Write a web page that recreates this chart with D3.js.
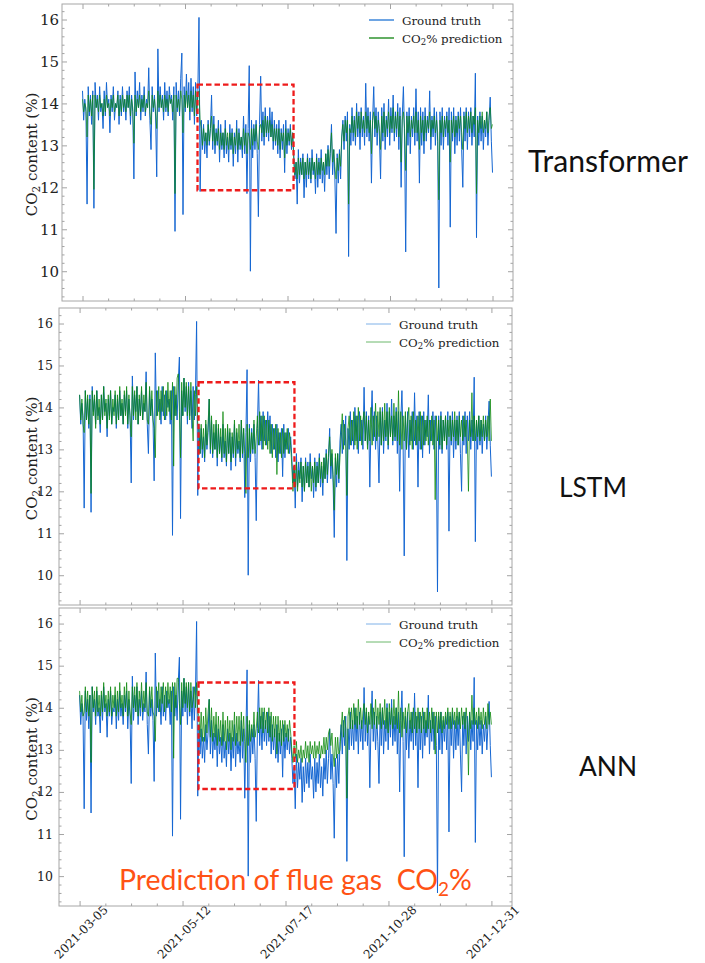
<!DOCTYPE html>
<html>
<head>
<meta charset="utf-8">
<script src="https://cdn.jsdelivr.net/npm/d3@7"></script>
<style>
  html, body { margin: 0; padding: 0; background: #fff; }
  svg { display: block; }
</style>
</head>
<body>
<svg id="chart" width="705" height="963"></svg>
<script>
// ---- data ---------------------------------------------------------------
const xTickLabels = ["2021-03-05", "2021-05-12", "2021-07-17", "2021-10-28", "2021-12-31"];
const yTickValues = [10, 11, 12, 13, 14, 15, 16];
const modelNames = ["Transformer", "LSTM", "ANN"];

// measured flue gas CO2 (%), one sample per step
const groundTruth = [
  14.3, 13.6, 14.1, 13.8, 11.6, 14.4, 13.7, 14.2, 13.5, 14.3, 11.5, 14.5, 13.9, 14.2, 13.6, 14.4, 13.8, 14.0, 13.4, 14.3,
  13.7, 14.5, 13.9, 14.1, 13.3, 14.2, 13.8, 14.4, 13.6, 14.0, 13.9, 14.3, 13.5, 14.2, 13.7, 14.4, 13.8, 14.1, 13.6, 14.3,
  13.9, 14.4, 13.5, 14.2, 13.8, 12.2, 14.75, 13.7, 14.3, 13.9, 14.5, 13.6, 14.2, 13.8, 14.4, 13.7, 14.1, 13.9, 14.85, 13.6,
  12.9, 14.4, 13.8, 14.2, 13.7, 12.25, 15.3, 13.8, 14.4, 13.9, 14.2, 13.6, 14.5, 13.8, 14.3, 13.7, 14.4, 14.0, 14.2, 13.6,
  14.4, 10.95, 14.5, 13.8, 14.3, 13.7, 14.6, 15.2, 11.35, 14.4, 13.8, 14.7, 13.9, 14.5, 13.6, 14.6, 13.8, 14.4, 13.5, 14.5,
  13.7, 14.3, 16.05, 11.9,
  13.6, 12.9, 13.5, 12.8, 13.3, 12.7, 13.6, 13.0, 13.4, 14.2, 12.9, 13.7, 12.8, 13.4, 13.0, 13.6, 12.6, 13.5, 12.9, 13.3,
  12.7, 13.6, 12.8, 13.2, 12.6, 13.5, 12.9, 13.4, 12.5, 13.3, 12.8, 13.6, 12.6, 13.4, 12.9, 13.2, 12.7, 13.7, 12.8, 13.5,
  11.85, 13.4, 14.9, 10.0, 13.6, 12.7, 13.5, 12.9, 13.6, 12.8, 11.3, 13.5, 14.65, 13.1, 13.8, 13.0, 13.9, 13.2, 13.7, 13.1,
  13.9, 13.2, 13.8, 12.9, 13.6, 13.0, 13.5, 12.8, 13.6, 12.7, 13.4, 12.9, 13.5, 12.35, 13.6, 12.8, 13.4, 13.0, 13.5, 12.9,
  13.3,
  12.8, 12.2, 12.6, 11.6, 12.9, 12.1, 12.7, 12.3, 12.8, 11.75, 12.6, 12.0, 12.8, 12.2, 12.7, 12.1, 12.9, 12.3, 12.6, 11.85,
  12.8, 12.0, 12.7, 12.2, 12.9, 12.1, 12.6, 11.9, 12.8, 12.3, 13.0, 12.2, 12.8, 13.5, 12.3, 12.9, 12.2, 10.9, 12.8, 12.1,
  12.9, 12.2,
  13.2, 13.6, 12.9, 13.7, 13.1, 13.8, 10.35, 13.5, 13.0, 13.9, 13.1, 13.7, 13.0, 14.0, 13.2, 13.8, 12.9, 13.9, 13.2, 13.7,
  13.0, 14.48, 13.2, 13.9, 13.1, 13.8, 12.1, 13.6, 14.4, 13.2, 13.9, 13.0, 13.8, 13.2, 12.2, 13.9, 13.1, 14.0, 12.9, 13.7,
  13.2, 14.1, 13.0, 13.9, 13.3, 14.2, 13.1, 13.8, 13.2, 14.0, 12.9, 13.9, 12.0, 13.7, 14.4, 13.2, 10.46, 13.8, 13.0, 13.9,
  12.8, 13.7, 13.2, 13.9, 13.0, 14.35, 13.1, 13.8, 12.1, 13.9, 13.0, 13.8, 12.8, 13.9, 13.1, 13.7, 13.3, 14.3, 12.9, 13.7,
  13.2, 13.9, 13.0, 13.8, 13.1, 9.6, 13.8, 13.0, 13.9, 12.9, 13.7, 13.2, 13.8, 13.0, 13.9, 11.05, 13.8, 13.1, 13.9, 12.8,
  13.7, 13.0, 13.8, 13.1, 13.9, 12.9, 12.0, 13.8, 13.1, 13.9, 12.9, 13.8, 13.2, 13.9, 13.0, 13.7, 13.2, 14.72, 10.8, 13.7,
  13.0, 13.8, 13.1, 13.7, 12.9, 13.6, 13.2, 13.8, 13.0, 13.6, 14.15, 13.1, 12.35
];

// model predictions of the same samples
const transformerPrediction = [
  14.1, 13.8, 14.0, 13.9, 13.2, 14.2, 13.8, 14.1, 13.7, 14.2, 11.95, 14.2, 13.9, 14.1, 13.8, 14.2, 13.9, 14.0, 13.7, 14.1,
  13.8, 14.2, 13.9, 14.0, 13.7, 14.1, 13.9, 14.2, 13.8, 14.0, 13.9, 14.2, 13.7, 14.1, 13.8, 14.2, 13.9, 14.1, 13.8, 14.2,
  13.9, 14.2, 13.7, 14.1, 13.9, 13.05, 14.2, 13.8, 14.1, 13.9, 14.2, 13.8, 14.1, 13.9, 14.2, 13.8, 14.0, 13.9, 14.3, 13.8,
  13.5, 14.2, 13.9, 14.1, 13.8, 13.4, 14.3, 13.9, 14.2, 13.9, 14.1, 13.8, 14.2, 13.9, 14.1, 13.8, 14.2, 14.0, 14.1, 13.8,
  14.2, 11.85, 14.2, 13.9, 14.1, 13.8, 14.3, 14.1, 13.3, 14.2, 13.9, 14.3, 13.9, 14.2, 13.8, 14.3, 13.9, 14.2, 13.7, 14.3,
  13.8, 14.2, 14.3, 13.6,
  13.4, 13.0, 13.4, 13.1, 13.3, 13.0, 13.5, 13.1, 13.4, 13.7, 13.1, 13.5, 13.0, 13.3, 13.1, 13.4, 12.9, 13.3, 13.0, 13.3,
  12.9, 13.4, 13.0, 13.3, 12.9, 13.3, 13.0, 13.3, 12.8, 13.2, 13.0, 13.4, 12.9, 13.3, 13.0, 13.2, 12.9, 13.4, 13.0, 13.3,
  12.8, 13.3, 13.2, 12.9, 13.4, 13.0, 13.4, 13.1, 13.5, 13.1, 12.9, 13.4, 13.5, 13.3, 13.6, 13.2, 13.7, 13.3, 13.6, 13.3,
  13.6, 13.2, 13.5, 13.1, 13.4, 13.1, 13.4, 13.0, 13.4, 12.9, 13.3, 13.1, 13.3, 12.7, 13.4, 13.0, 13.3, 13.1, 13.4, 13.0,
  13.3,
  12.6, 12.3, 12.6, 12.2, 12.7, 12.3, 12.6, 12.3, 12.7, 12.2, 12.6, 12.3, 12.7, 12.3, 12.6, 12.2, 12.7, 12.4, 12.6, 12.2,
  12.7, 12.3, 12.6, 12.3, 12.7, 12.4, 12.6, 12.3, 12.8, 12.5, 12.9, 12.5, 12.9, 13.3, 12.6, 12.9, 12.5, 12.2, 12.7, 12.4,
  12.8, 12.5,
  13.2, 13.5, 13.1, 13.6, 13.3, 13.6, 11.6, 13.4, 13.3, 13.7, 13.3, 13.6, 13.2, 13.8, 13.4, 13.7, 13.3, 13.8, 13.4, 13.6,
  13.3, 13.8, 13.4, 13.7, 13.3, 13.6, 12.8, 13.6, 13.8, 13.4, 13.7, 13.3, 13.6, 13.4, 12.9, 13.7, 13.3, 13.8, 13.2, 13.6,
  13.4, 13.8, 13.3, 13.7, 13.4, 13.9, 13.3, 13.7, 13.4, 13.8, 13.2, 13.7, 12.6, 13.6, 13.8, 13.4, 12.4, 13.7, 13.3, 13.7,
  13.2, 13.6, 13.4, 13.7, 13.3, 13.8, 13.3, 13.6, 12.9, 13.7, 13.3, 13.6, 13.1, 13.7, 13.3, 13.6, 13.4, 13.8, 13.2, 13.6,
  13.4, 13.7, 13.3, 13.6, 13.3, 11.7, 13.6, 13.3, 13.7, 13.2, 13.6, 13.4, 13.7, 13.3, 13.6, 12.6, 13.6, 13.3, 13.7, 13.2,
  13.6, 13.3, 13.7, 13.4, 13.7, 13.3, 12.9, 13.7, 13.4, 13.8, 13.3, 13.7, 13.4, 13.8, 13.3, 13.7, 13.5, 13.9, 11.85, 13.6,
  13.3, 13.7, 13.4, 13.8, 13.3, 13.6, 13.4, 13.8, 13.3, 13.7, 13.9, 13.4, 13.5
];

const lstmPrediction = [
  14.3, 13.7, 14.2, 13.6, 13.4, 14.4, 13.7, 14.3, 13.6, 14.2, 11.95, 14.4, 13.8, 14.3, 13.5, 14.4, 13.7, 14.2, 13.6, 14.3,
  13.7, 14.5, 13.8, 14.2, 13.5, 14.3, 13.7, 14.4, 13.6, 14.2, 13.8, 14.4, 13.6, 14.3, 13.7, 14.5, 13.8, 14.2, 13.6, 14.4,
  13.8, 14.5, 13.6, 14.3, 13.7, 13.3, 14.5, 13.8, 14.4, 13.7, 14.5, 13.6, 14.3, 13.8, 14.5, 13.7, 14.3, 13.9, 14.6, 13.7,
  13.6, 14.5, 13.8, 14.4, 13.7, 13.5, 12.8, 14.4, 13.8, 14.5, 13.7, 14.4, 13.9, 14.5, 13.7, 14.4, 13.8, 14.6, 13.9, 14.4,
  13.7, 14.6, 12.6, 14.5, 13.8, 14.7, 14.8, 13.9, 12.8, 14.6, 13.8, 14.7, 14.0, 14.6, 13.8, 14.5, 13.7, 14.6, 13.8, 13.2,
  14.4, 13.8, 14.5, 13.6,
  13.5, 12.9, 13.6, 13.0, 13.5, 12.8, 13.7, 13.1, 13.6, 14.2, 13.0, 13.8, 12.9, 13.6, 13.0, 13.7, 12.8, 13.6, 12.9, 13.5,
  12.8, 13.9, 12.9, 13.5, 12.7, 13.6, 12.9, 13.5, 12.7, 13.4, 12.9, 13.7, 12.8, 13.5, 13.0, 13.6, 12.8, 13.7, 12.9, 13.5,
  12.9, 11.95, 13.6, 12.8, 13.5, 12.9, 13.4, 13.0, 13.7, 12.9, 13.3, 13.8, 13.1, 13.9, 13.2, 13.8, 13.0, 13.8, 13.1, 13.7,
  13.0, 13.7, 12.9, 13.6, 12.8, 13.5, 13.0, 13.6, 12.4, 13.5, 12.9, 13.4, 12.8, 13.5, 12.9, 13.4, 13.0, 13.5, 12.9, 13.4,
  13.1,
  12.6, 12.0, 12.6, 12.1, 12.7, 12.0, 12.5, 12.2, 12.7, 12.1, 12.6, 12.0, 12.7, 12.2, 12.6, 12.1, 12.7, 12.0, 12.6, 12.2,
  12.7, 12.1, 12.6, 12.2, 12.8, 12.3, 12.7, 12.2, 12.8, 12.3, 12.9, 12.4, 12.9, 13.3, 12.6, 13.0, 12.4, 11.55, 12.9, 12.4,
  12.9, 12.3,
  12.8, 13.4, 13.85, 13.0, 13.6, 13.2, 11.9, 13.5, 13.8, 13.1, 13.7, 13.2, 13.9, 13.1, 13.8, 13.0, 14.0, 13.2, 13.8, 13.1,
  13.7, 13.9, 13.2, 13.8, 13.0, 13.7, 13.2, 14.0, 13.1, 13.8, 13.3, 14.1, 13.2, 13.9, 13.3, 14.0, 13.1, 13.9, 13.2, 14.1,
  13.3, 13.9, 13.1, 14.0, 13.3, 13.8, 13.2, 14.1, 13.3, 13.9, 13.2, 14.4, 13.1, 13.9, 13.0, 13.8, 13.2, 13.9, 13.0, 13.7,
  14.0, 13.1, 13.8, 13.0, 13.9, 13.2, 13.7, 13.1, 13.8, 13.2, 13.9, 13.0, 13.8, 13.1, 13.7, 13.2, 13.8, 13.1, 13.7, 13.2,
  13.8, 13.1, 13.7, 11.8, 13.8, 13.2, 13.7, 13.1, 13.8, 13.0, 13.7, 13.2, 13.8, 13.1, 13.7, 13.3, 13.8, 13.2, 13.7, 13.3,
  13.9, 13.2, 13.7, 13.1, 13.8, 13.3, 13.7, 13.2, 13.8, 13.3, 13.7, 13.2, 12.0, 13.7, 13.3, 14.35, 13.2, 13.8, 13.2, 13.7,
  13.3, 13.8, 13.2, 13.7, 13.3, 13.8, 13.2, 13.7, 13.3, 13.8, 13.2, 14.2, 13.2
];

const annPrediction = [
  14.4, 13.9, 14.3, 13.8, 13.9, 14.5, 13.9, 14.4, 13.8, 14.3, 12.7, 14.5, 14.0, 14.4, 13.8, 14.5, 13.9, 14.3, 13.8, 14.4,
  13.9, 14.6, 14.0, 14.3, 13.8, 14.4, 13.9, 14.5, 13.8, 14.3, 14.0, 14.5, 13.8, 14.4, 13.9, 14.6, 14.0, 14.3, 13.8, 14.5,
  14.0, 14.6, 13.8, 14.4, 13.9, 13.6, 14.5, 14.0, 14.5, 13.9, 14.6, 13.8, 14.4, 14.0, 14.6, 13.9, 14.4, 14.0, 14.6, 13.9,
  13.8, 14.5, 14.0, 14.5, 13.9, 13.8, 13.2, 14.5, 14.0, 14.6, 13.9, 14.5, 14.1, 14.6, 13.9, 14.5, 14.0, 14.6, 14.1, 14.5,
  13.9, 14.6, 12.8, 14.6, 14.0, 14.7, 14.7, 14.1, 13.6, 14.6, 14.0, 14.7, 14.1, 14.6, 14.0, 14.6, 13.9, 14.6, 14.0, 14.2,
  14.5, 14.0, 14.6, 13.9,
  13.8, 13.3, 13.9, 13.2, 13.8, 13.2, 14.0, 13.4, 13.9, 14.2, 13.3, 14.0, 13.2, 13.8, 13.3, 13.9, 13.1, 13.8, 13.2, 13.7,
  13.1, 13.9, 13.2, 13.7, 13.0, 13.8, 13.2, 13.7, 13.0, 13.7, 13.2, 13.9, 13.1, 13.8, 13.2, 13.8, 13.1, 13.9, 13.2, 13.8,
  13.2, 12.7, 13.8, 13.1, 13.7, 13.2, 13.6, 13.3, 13.9, 13.3, 13.5, 13.9, 13.4, 14.0, 13.5, 14.0, 13.4, 14.0, 13.5, 13.9,
  13.4, 14.0, 13.3, 13.9, 13.2, 13.8, 13.3, 13.8, 12.9, 13.8, 13.2, 13.7, 13.1, 13.7, 13.2, 13.7, 13.3, 13.6, 13.2, 13.7,
  13.4,
  13.0, 12.7, 13.1, 12.8, 13.2, 12.7, 13.0, 12.8, 13.1, 12.7, 13.0, 12.8, 13.2, 12.8, 13.1, 12.7, 13.2, 12.9, 13.1, 12.8,
  13.2, 12.8, 13.1, 12.9, 13.2, 12.8, 13.1, 12.9, 13.3, 12.9, 13.3, 13.0, 13.4, 13.5, 13.1, 13.4, 12.9, 12.6, 13.3, 12.8,
  13.3, 12.9,
  13.0, 13.5, 13.9, 13.3, 13.8, 13.5, 11.85, 13.8, 14.0, 13.5, 14.0, 13.5, 14.1, 13.6, 14.0, 13.5, 14.2, 13.6, 14.0, 13.5,
  13.9, 14.1, 13.6, 14.0, 13.4, 13.9, 13.6, 14.1, 13.5, 14.0, 13.6, 14.2, 13.5, 14.0, 13.6, 14.1, 13.5, 14.0, 13.6, 14.2,
  13.5, 14.0, 13.4, 14.1, 13.6, 14.0, 13.5, 14.2, 13.6, 14.0, 13.5, 14.4, 13.4, 14.0, 13.3, 13.9, 13.5, 14.0, 13.4, 13.9,
  14.1, 13.5, 13.9, 13.4, 14.0, 13.5, 13.9, 13.4, 14.0, 13.5, 13.9, 13.4, 14.0, 13.5, 13.9, 13.4, 14.0, 13.5, 13.9, 13.4,
  14.0, 13.5, 13.9, 12.9, 13.9, 13.4, 13.9, 13.5, 13.9, 13.4, 13.8, 13.5, 13.9, 13.6, 14.0, 13.5, 13.9, 13.5, 14.0, 13.6,
  13.9, 13.5, 14.0, 13.6, 13.9, 13.5, 14.0, 13.6, 13.9, 13.5, 14.0, 13.6, 12.4, 13.9, 13.5, 14.3, 13.6, 14.0, 13.6, 13.9,
  13.5, 14.0, 13.6, 13.9, 13.5, 14.0, 13.6, 13.9, 13.5, 14.1, 13.6, 13.9, 13.6
];

// highlighted window (sample index range, CO2 range) for each model
const highlightStart = [100.7, 103.7, 103.7];
const highlightEnd = [184.8, 187.3, 187.3];
const highlightLow = [11.93, 12.07, 12.07];
const highlightHigh = [14.45, 14.6, 14.6];

// ---- layout -------------------------------------------------------------
const predictions = [transformerPrediction, lstmPrediction, annPrediction];
const panels = [
  { left: 62, right: 513, top: 4,   bottom: 301, tickFont: 15,   legendX: 369, legendY: 20,  legendW: 1.6,
    gtLegend: "#4a8fdc", predLegend: "#3c9a3c", nameX: 528, nameBase: 172, nameW: 160, predW: 0.7 },
  { left: 59, right: 512, top: 308, bottom: 605, tickFont: 12.5, legendX: 366, legendY: 324, legendW: 1,
    gtLegend: "#7fb1e8", predLegend: "#6cb86c", nameX: 559, nameBase: 497, nameW: 68, predW: 0.8 },
  { left: 59, right: 512, top: 608, bottom: 906, tickFont: 12.5, legendX: 366, legendY: 624, legendW: 1,
    gtLegend: "#7fb1e8", predLegend: "#6cb86c", nameX: 579, nameBase: 776, nameW: 58, predW: 0.8 }
];

const svg = d3.select("#chart");
const serif = "'DejaVu Serif', serif";
const sans = "Lato, 'Open Sans', sans-serif";
const frameColor = "#a6a6a6";
const tickColor = "#8c8c8c";
const n = groundTruth.length;
const yDomain = [9.29, 16.37];
const xDomain = [-(n - 1) * 0.05, (n - 1) * 1.05];
const xMajor = d3.range(5).map(k => k * (n - 1) / 4);
const xMinor = d3.range(17).map(k => k * (n - 1) / 16).filter((v, k) => k % 4 !== 0);
const yMinor = d3.ticks(yDomain[0], yDomain[1], 35).filter(v => Math.abs(v - Math.round(v)) > 1e-6);

function fitText(sel, targetWidth, baseSize) {
  const w = sel.node().getComputedTextLength();
  if (w > 0) sel.attr("font-size", baseSize * targetWidth / w);
}

panels.forEach((p, idx) => {
  const x = d3.scaleLinear().domain(xDomain).range([p.left, p.right]);
  const y = d3.scaleLinear().domain(yDomain).range([p.bottom, p.top]);
  const g = svg.append("g");

  const clipId = "clip" + idx;
  svg.append("clipPath").attr("id", clipId).append("rect")
    .attr("x", p.left).attr("y", p.top).attr("width", p.right - p.left).attr("height", p.bottom - p.top);

  const line = d3.line().x((d, i) => x(i)).y(d => y(d));
  const plot = g.append("g").attr("clip-path", `url(#${clipId})`);
  plot.append("path").datum(groundTruth).attr("d", line)
    .attr("fill", "none").attr("stroke", "#1466d2").attr("stroke-width", 1).attr("stroke-linejoin", "round");
  plot.append("path").datum(predictions[idx]).attr("d", line)
    .attr("fill", "none").attr("stroke", "#0b870b").attr("stroke-width", p.predW)
    .attr("stroke-opacity", 0.95).attr("stroke-linejoin", "round");

  // highlighted window
  g.append("rect")
    .attr("x", x(highlightStart[idx])).attr("y", y(highlightHigh[idx]))
    .attr("width", x(highlightEnd[idx]) - x(highlightStart[idx]))
    .attr("height", y(highlightLow[idx]) - y(highlightHigh[idx]))
    .attr("fill", "none").attr("stroke", "#ee1b1b").attr("stroke-width", 2.3)
    .attr("stroke-dasharray", "5.5,3");

  // inward ticks on all four sides
  const tickStyle = a => {
    a.select(".domain").remove();
    a.selectAll("line").attr("stroke", tickColor).attr("stroke-width", 0.8);
  };
  const left = g.append("g").attr("transform", `translate(${p.left},0)`)
    .call(d3.axisLeft(y).tickValues(yTickValues).tickSize(-5).tickPadding(idx === 0 ? 3 : 6).tickFormat(d3.format("d")));
  tickStyle(left);
  left.selectAll("text").attr("font-family", serif).attr("font-size", p.tickFont).attr("fill", "#222");
  g.append("g").attr("transform", `translate(${p.left},0)`)
    .call(d3.axisLeft(y).tickValues(yMinor).tickSize(-2.5).tickFormat("")).call(tickStyle);
  g.append("g").attr("transform", `translate(${p.right},0)`)
    .call(d3.axisRight(y).tickValues(yTickValues).tickSize(-5).tickFormat("")).call(tickStyle);
  g.append("g").attr("transform", `translate(${p.right},0)`)
    .call(d3.axisRight(y).tickValues(yMinor).tickSize(-2.5).tickFormat("")).call(tickStyle);
  g.append("g").attr("transform", `translate(0,${p.top})`)
    .call(d3.axisTop(x).tickValues(xMajor).tickSize(-5).tickFormat("")).call(tickStyle);
  g.append("g").attr("transform", `translate(0,${p.top})`)
    .call(d3.axisTop(x).tickValues(xMinor).tickSize(-2.5).tickFormat("")).call(tickStyle);
  const bottom = g.append("g").attr("transform", `translate(0,${p.bottom})`)
    .call(d3.axisBottom(x).tickValues(xMajor).tickSize(-5)
      .tickFormat((d, i) => idx === panels.length - 1 ? xTickLabels[i] : ""));
  tickStyle(bottom);
  bottom.selectAll("text")
    .attr("font-family", serif).attr("font-size", 12).attr("fill", "#222")
    .attr("text-anchor", "middle").attr("x", 0).attr("y", 0).attr("dy", "0.35em")
    .attr("transform", "translate(1,26) rotate(-45)");
  g.append("g").attr("transform", `translate(0,${p.bottom})`)
    .call(d3.axisBottom(x).tickValues(xMinor).tickSize(-2.5).tickFormat("")).call(tickStyle);

  // frame
  g.append("rect").attr("x", p.left).attr("y", p.top)
    .attr("width", p.right - p.left).attr("height", p.bottom - p.top)
    .attr("fill", "none").attr("stroke", frameColor).attr("stroke-width", 1);

  // y label
  const yl = g.append("text")
    .attr("transform", `translate(32,${(p.top + p.bottom) / 2 + 2}) rotate(-90)`)
    .attr("text-anchor", "middle").attr("dominant-baseline", "central")
    .attr("font-family", serif).attr("font-size", 15).attr("fill", "#222");
  yl.append("tspan").text("CO");
  yl.append("tspan").text("2").attr("font-size", 10.5).attr("dy", 3.5);
  yl.append("tspan").text(" content (%)").attr("dy", -3.5);

  // legend
  const leg = g.append("g");
  [[p.gtLegend, "gt"], [p.predLegend, "pred"]].forEach(([c, key], k) => {
    const ly = p.legendY + k * 18;
    leg.append("line").attr("x1", p.legendX).attr("x2", p.legendX + 25)
      .attr("y1", ly).attr("y2", ly).attr("stroke", c).attr("stroke-width", p.legendW);
    const t = leg.append("text").attr("x", p.legendX + 33).attr("y", ly + 4.5)
      .attr("font-family", serif).attr("font-size", 11.8).attr("fill", "#222");
    if (key === "gt") {
      t.text("Ground truth");
    } else {
      t.append("tspan").text("CO");
      t.append("tspan").text("2").attr("font-size", 8.5).attr("dy", 2.5);
      t.append("tspan").text("% prediction").attr("dy", -2.5);
    }
  });

  // model name
  const nm = svg.append("text").attr("x", p.nameX).attr("y", p.nameBase)
    .attr("font-family", sans).attr("font-size", 28).attr("fill", "#111").text(modelNames[idx]);
  fitText(nm, p.nameW, 28);
});

// overall caption
const cap = svg.append("text").attr("x", 119).attr("y", 890)
  .attr("font-family", sans).attr("font-size", 30).attr("fill", "#ff5214")
  .style("white-space", "pre");
cap.append("tspan").text("Prediction of flue gas  CO");
cap.append("tspan").text("2").attr("font-size", 20).attr("dy", 6);
cap.append("tspan").text("%").attr("dy", -6);
const capW = cap.node().getBBox().width;
if (capW > 0) cap.attr("transform", `translate(119,890) scale(${353 / capW}) translate(-119,-890)`);
</script>
</body>
</html>
